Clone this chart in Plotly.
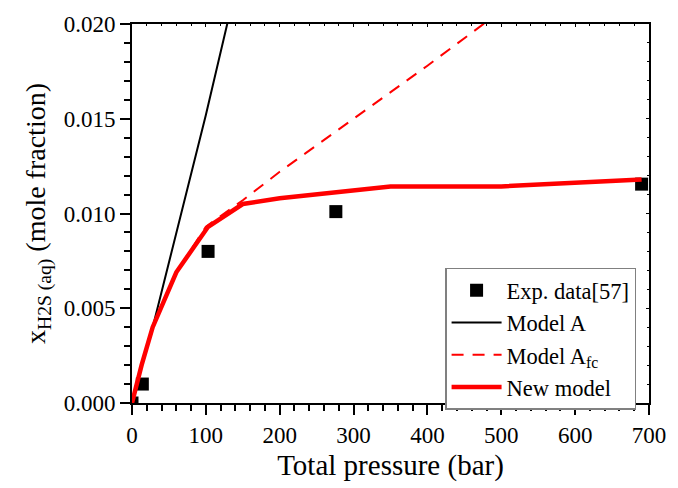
import plotly.graph_objects as go

# Experimental data
exp_p = [0, 14, 103, 276, 690]
exp_x = [0.0, 0.0010, 0.0080, 0.0101, 0.01155]

# Model A (black)
ma_p = [0, 10, 20, 30, 60, 100, 150]
ma_x = [0.0, 0.0015, 0.0029, 0.0043, 0.0090, 0.0152, 0.0235]

# Model Afc (red dashed)
mafc_p = [0, 13, 28, 60, 100, 150, 200, 300, 400, 500]
mafc_x = [0.0, 0.0020, 0.0040, 0.0069, 0.0093, 0.0107, 0.0122, 0.0150, 0.0178, 0.0207]

# New model (red solid)
nm_p = [0, 13, 28, 60, 103, 150, 200, 350, 500, 690]
nm_x = [0.0, 0.0020, 0.0040, 0.0069, 0.0093, 0.0105, 0.0108, 0.01143, 0.01143, 0.0118]

FONT = "Liberation Serif"

fig = go.Figure()
fig.add_trace(go.Scatter(x=exp_p, y=exp_x, mode="markers", name="Exp. data[57]",
                         marker=dict(symbol="square", size=13, color="black")))
fig.add_trace(go.Scatter(x=ma_p, y=ma_x, mode="lines", name="Model A",
                         line=dict(color="black", width=2)))
fig.add_trace(go.Scatter(x=mafc_p, y=mafc_x, mode="lines", name="Model A<sub>fc</sub>",
                         line=dict(color="#ff0000", width=2, dash="12px,9px")))
fig.add_trace(go.Scatter(x=nm_p, y=nm_x, mode="lines", name="New model",
                         line=dict(color="#ff0000", width=4.5)))

axis_common = dict(showgrid=False, zeroline=False, showline=True, linecolor="black",
                   linewidth=2, ticks="outside", ticklen=10, tickwidth=2, tickcolor="black",
                   tickfont=dict(family=FONT, size=23, color="black"))

fig.update_layout(
    width=678, height=488,
    margin=dict(l=132, r=22, t=24, b=83),
    paper_bgcolor="white", plot_bgcolor="white",
    font=dict(family=FONT, color="black", size=22),
    xaxis=dict(range=[0, 700], dtick=100, tick0=0,
               minor=dict(dtick=20, ticks="outside", ticklen=6, tickwidth=1.5, tickcolor="black"),
               title=dict(text="Total pressure (bar)", font=dict(family=FONT, size=29), standoff=8),
               **axis_common),
    yaxis=dict(range=[0, 0.020], dtick=0.005, tick0=0, tickformat=".3f",
               minor=dict(dtick=0.001, ticks="outside", ticklen=6, tickwidth=1.5, tickcolor="black"),
               title=dict(text="x<sub>H2S (aq)</sub> (mole fraction)", font=dict(family=FONT, size=28), standoff=10),
               **axis_common),
    xaxis2=dict(overlaying="x", side="top", range=[0, 700], dtick=100, showticklabels=False,
                showgrid=False, zeroline=False, showline=True, linecolor="black", linewidth=2,
                ticks="inside", ticklen=3, tickwidth=1, tickcolor="black",
                minor=dict(dtick=20, ticks="inside", ticklen=2, tickcolor="black")),
    yaxis2=dict(overlaying="y", side="right", range=[0, 0.020], dtick=0.005, showticklabels=False,
                showgrid=False, zeroline=False, showline=True, linecolor="black", linewidth=2,
                ticks="inside", ticklen=3, tickwidth=1, tickcolor="black",
                minor=dict(dtick=0.001, ticks="inside", ticklen=2, tickcolor="black")),
    legend=dict(x=0.975, y=0.357, xanchor="right", yanchor="top",
                bgcolor="white", bordercolor="#808080", borderwidth=1.5,
                font=dict(family=FONT, size=22.5, color="black"),
                tracegroupgap=0, itemwidth=50),
    showlegend=True,
)
fig.add_trace(go.Scatter(x=[None], y=[None], xaxis="x2", yaxis="y2", showlegend=False, hoverinfo="skip"))

fig.write_html("out.html", config={"displayModeBar": False},
               post_script="document.body.style.margin='0';document.body.style.overflow='hidden';")
